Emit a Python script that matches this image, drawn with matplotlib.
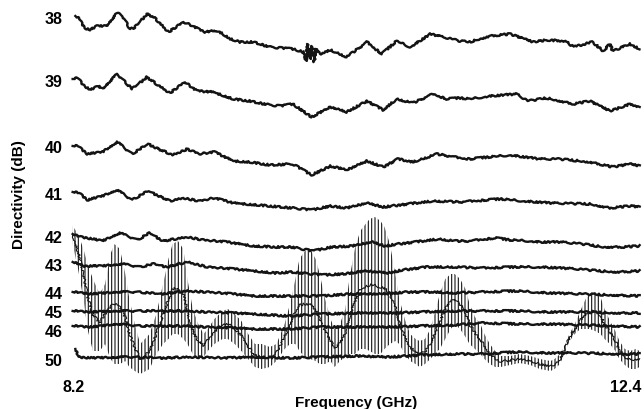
import matplotlib
matplotlib.use("Agg")
import matplotlib.pyplot as plt
import numpy as np

plt.rcParams['font.family'] = ['Liberation Sans', 'DejaVu Sans']
plt.rcParams['hatch.linewidth'] = 0.8

# ---- data (frequency in GHz, trace level in chart offset units, top = 0) ----
row_labels = ['38', '39', '40', '41', '42', '43', '44', '45', '46', '50']
row_label_pos = [18, 81, 147, 194, 237, 265, 293, 312, 331, 360]

f38 = [8.21, 8.24, 8.28, 8.32, 8.37, 8.44, 8.52, 8.56, 8.61, 8.64, 8.74, 8.79, 8.90, 9.01, 9.08, 9.16, 9.23, 9.28, 9.36, 9.43,
       9.53, 9.65, 9.82, 9.90, 9.92, 9.93, 9.95, 9.96, 9.98, 9.99, 10.02, 10.10, 10.22, 10.37, 10.48, 10.59, 10.69, 10.84, 11.06, 11.13,
       11.28, 11.43, 11.60, 11.70, 11.84, 11.90, 12.04, 12.12, 12.17, 12.19, 12.32, 12.39]
y38 = [17, 20, 29, 31, 27, 27, 14, 17, 29, 30, 15, 18, 33, 23, 27, 33, 32, 33, 40, 43,
       43, 48, 50, 53, 62, 45, 60, 47, 63, 50, 55, 51, 58, 43, 55, 42, 48, 35, 42, 43,
       37, 35, 43, 41, 42, 48, 43, 52, 45, 52, 45, 50]

f39 = [8.19, 8.23, 8.27, 8.32, 8.38, 8.41, 8.52, 8.63, 8.74, 8.81, 8.91, 9.02, 9.11, 9.23, 9.38, 9.50, 9.65, 9.73, 9.82, 9.96,
       10.10, 10.22, 10.37, 10.49, 10.59, 10.71, 10.86, 10.96, 11.06, 11.13, 11.28, 11.48, 11.56, 11.70, 11.90, 12.02, 12.17, 12.32, 12.39]
y39 = [80, 79, 86, 91, 87, 90, 75, 90, 78, 85, 94, 83, 92, 93, 100, 102, 106, 107, 105, 118,
       108, 113, 102, 111, 100, 104, 95, 100, 99, 100, 97, 95, 102, 99, 105, 102, 112, 105, 108]

f40 = [8.19, 8.23, 8.30, 8.41, 8.52, 8.63, 8.75, 8.81, 8.93, 9.04, 9.13, 9.24, 9.38, 9.50, 9.65, 9.82, 9.96, 10.10, 10.22, 10.37,
       10.49, 10.60, 10.71, 10.89, 11.06, 11.13, 11.43, 11.65, 11.80, 12.02, 12.19, 12.32, 12.39]
y40 = [147, 147, 155, 153, 143, 155, 145, 149, 156, 150, 155, 153, 162, 163, 166, 165, 176, 167, 171, 162,
       168, 160, 163, 155, 159, 160, 156, 160, 160, 163, 168, 165, 167]

f41 = [8.19, 8.24, 8.30, 8.41, 8.52, 8.63, 8.75, 8.91, 9.01, 9.13, 9.24, 9.38, 9.65, 9.82, 9.96, 10.10, 10.22, 10.37, 10.49, 10.86,
       11.06, 11.36, 11.53, 11.73, 12.02, 12.17, 12.32, 12.39]
y41 = [193, 194, 201, 197, 191, 201, 192, 202, 199, 202, 199, 204, 207, 209, 211, 207, 209, 204, 208, 202,
       203, 200, 202, 204, 205, 209, 207, 208]

f42 = [8.19, 8.22, 8.34, 8.41, 8.54, 8.67, 8.76, 8.86, 9.04, 9.16, 9.33, 9.53, 9.69, 9.81, 9.97, 10.11, 10.26, 10.41, 10.50, 10.60,
       10.73, 10.90, 11.02, 11.13, 11.32, 11.43, 11.58, 11.65, 11.80, 11.97, 12.12, 12.27, 12.39]
y42 = [235, 237, 240, 242, 234, 241, 234, 242, 238, 241, 243, 247, 248, 248, 252, 248, 247, 243, 247, 245,
       243, 240, 242, 242, 239, 241, 242, 243, 243, 245, 248, 248, 247]

f43 = [8.19, 8.27, 8.41, 8.56, 8.69, 8.79, 8.89, 9.04, 9.19, 9.38, 9.54, 9.69, 9.81, 10.04, 10.19, 10.36, 10.53, 10.63, 10.82, 11.02,
       11.23, 11.48, 11.67, 11.93, 12.10, 12.22, 12.39]
y43 = [263, 267, 267, 265, 268, 265, 268, 263, 268, 270, 272, 274, 273, 276, 275, 272, 274, 271, 268, 268,
       269, 268, 268, 270, 272, 273, 272]

f44 = [8.19, 8.34, 8.52, 8.67, 8.84, 9.04, 9.19, 9.38, 9.54, 9.79, 10.04, 10.23, 10.48, 10.67, 10.87, 11.02, 11.23, 11.48, 11.73, 11.97,
       12.17, 12.39]
y44 = [293, 295, 293, 293, 295, 292, 293, 295, 297, 297, 297, 295, 295, 293, 293, 294, 293, 292, 294, 295, 296, 297]

f45 = [8.19, 8.34, 8.52, 8.69, 8.84, 9.04, 9.19, 9.38, 9.54, 9.79, 10.04, 10.28, 10.53, 10.78, 11.02, 11.23, 11.48, 11.73, 11.97, 12.22, 12.39]
y45 = [312, 313, 312, 312, 312, 312, 313, 314, 315, 317, 315, 314, 314, 313, 312, 312, 312, 313, 313, 314, 314]

f46 = [8.19, 8.34, 8.52, 8.69, 8.84, 9.04, 9.19, 9.38, 9.54, 9.79, 10.04, 10.28, 10.53, 10.78, 11.02, 11.23, 11.48, 11.73, 11.97, 12.22, 12.39]
y46 = [327, 328, 325, 327, 327, 327, 328, 329, 330, 330, 328, 328, 328, 327, 326, 324, 325, 325, 326, 327, 328]

f50 = [8.21, 8.23, 8.34, 8.59, 8.84, 9.08, 9.33, 9.54, 9.79, 10.04, 10.28, 10.53, 10.78, 11.02, 11.23, 11.48, 11.73, 11.97, 12.22, 12.39]
y50 = [350, 358, 359, 358, 359, 358, 359, 358, 359, 358, 357, 358, 356, 355, 355, 353, 354, 354, 355, 355]

# unlabeled fast-rippling trace: envelope (upper, lower)
fw = [8.19, 8.23, 8.27, 8.30, 8.34, 8.39, 8.43, 8.47, 8.50, 8.54, 8.58, 8.61, 8.65, 8.69, 8.76, 8.81, 8.86, 8.90, 8.93, 8.97,
      9.01, 9.04, 9.08, 9.12, 9.16, 9.19, 9.24, 9.30, 9.34, 9.39, 9.44, 9.49, 9.54, 9.59, 9.65, 9.70, 9.76, 9.80, 9.84, 9.87,
      9.91, 9.95, 9.99, 10.02, 10.06, 10.10, 10.13, 10.17, 10.21, 10.24, 10.28, 10.32, 10.36, 10.39, 10.43, 10.47, 10.50, 10.54, 10.58, 10.61,
      10.65, 10.69, 10.73, 10.76, 10.80, 10.84, 10.87, 10.91, 10.95, 10.99, 11.02, 11.06, 11.10, 11.13, 11.17, 11.21, 11.24, 11.28, 11.32, 11.36,
      11.43, 11.50, 11.58, 11.65, 11.73, 11.76, 11.80, 11.84, 11.87, 11.91, 11.95, 11.99, 12.02, 12.06, 12.10, 12.13, 12.17, 12.21, 12.24, 12.28,
      12.32, 12.36, 12.39]
w_up = [227, 235, 250, 265, 280, 295, 285, 255, 245, 250, 275, 300, 325, 345, 335, 315, 285, 260, 245, 242,
        250, 280, 310, 325, 335, 330, 320, 312, 310, 315, 322, 335, 345, 345, 348, 345, 325, 305, 280, 260,
        252, 250, 260, 275, 300, 320, 330, 325, 310, 280, 250, 232, 225, 220, 218, 222, 228, 245, 275, 300,
        320, 335, 340, 342, 340, 330, 315, 295, 280, 275, 275, 280, 290, 305, 318, 325, 335, 345, 352, 357,
        357, 355, 357, 360, 362, 360, 355, 345, 335, 325, 312, 300, 295, 293, 298, 310, 322, 332, 342, 350,
        352, 350, 352]
w_lo = [245, 270, 300, 330, 352, 352, 345, 360, 365, 365, 362, 368, 372, 375, 370, 355, 345, 340, 335, 335,
        340, 345, 355, 360, 358, 352, 345, 340, 340, 345, 352, 360, 368, 370, 368, 362, 350, 345, 345, 352,
        358, 360, 362, 365, 365, 362, 368, 362, 358, 355, 355, 350, 350, 352, 355, 355, 350, 345, 342, 345,
        355, 362, 365, 368, 365, 360, 355, 350, 340, 330, 325, 330, 338, 345, 350, 355, 360, 365, 368, 368,
        366, 364, 366, 370, 372, 370, 365, 352, 342, 335, 330, 330, 330, 332, 335, 340, 345, 352, 360, 366,
        370, 370, 368]

traces = [(f38, y38), (f39, y39), (f40, y40), (f41, y41), (f42, y42),
          (f43, y43), (f44, y44), (f45, y45), (f46, y46), (f50, y50)]

# ---- figure ----
W, H = 644, 410
fig = plt.figure(figsize=(W / 100, H / 100), dpi=100)
ax = fig.add_axes([74 / W, 1 - 372 / H, 567 / W, 367 / H])
ax.set_xlim(8.2, 12.4)
ax.set_ylim(372, 5)
for s in ax.spines.values():
    s.set_visible(False)

ink = '#141414'
for fx, fy in traces:
    ln, = ax.plot(fx, fy, color=ink, lw=1.7, clip_on=False, solid_joinstyle='round')
    ln.set_sketch_params(scale=0.9, length=3, randomness=12)

fwa = np.array(fw)
up = np.array(w_up)
lo = np.array(w_lo)
ax.fill_between(fwa, up, lo, facecolor='none', edgecolor=ink, hatch='|||||', linewidth=0, clip_on=False)
mid, = ax.plot(fwa, (up + lo) / 2, color=ink, lw=0.8, clip_on=False)
mid.set_sketch_params(scale=1.2, length=2, randomness=10)

ax.set_yticks(row_label_pos)
ax.set_yticklabels(row_labels, fontsize=11.5, fontweight='bold')
ax.tick_params(axis='y', length=0, pad=8.4)
ax.set_xticks([8.2, 12.4])
ax.set_xticklabels(['8.2', '12.4'], fontsize=11.5, fontweight='bold')
ax.tick_params(axis='x', length=0, pad=5.5)
ax.get_xticklabels()[1].set_horizontalalignment('right')

fig.text(19 / W, 1 - 195 / H, 'Directivity (dB)', rotation=90, ha='center', va='center',
         fontsize=11, fontweight='bold')
fig.text(356 / W, 1 - 407 / H, 'Frequency (GHz)', ha='center', va='baseline',
         fontsize=11, fontweight='bold')

fig.savefig('out.png', dpi=100)
